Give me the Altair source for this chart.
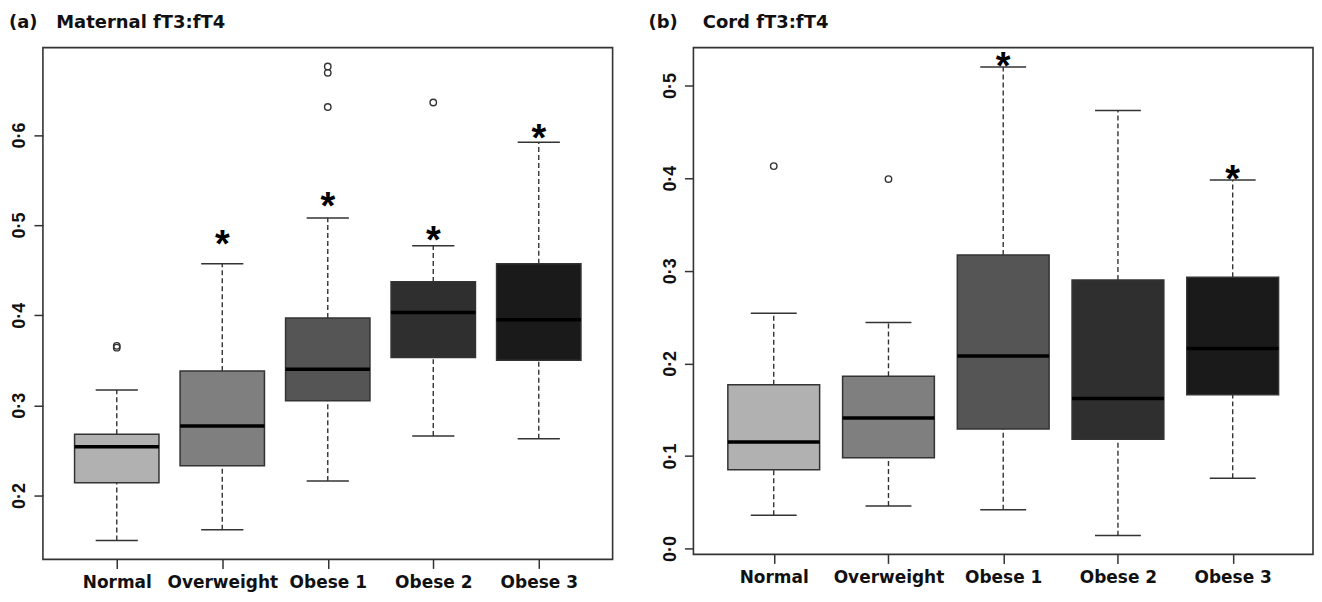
import altair as alt
import pandas as pd

categories = ["Normal", "Overweight", "Obese 1", "Obese 2", "Obese 3"]
positions = [1, 2, 3, 4, 5]
fills = ["#b1b1b1", "#7f7f7f", "#555555", "#2f2f2f", "#1a1a1a"]

# Panel (a): Maternal fT3:fT4
a_lower = [0.150, 0.162, 0.216, 0.266, 0.263]
a_q1 = [0.214, 0.233, 0.305, 0.353, 0.350]
a_median = [0.254, 0.277, 0.340, 0.403, 0.395]
a_q3 = [0.268, 0.338, 0.397, 0.437, 0.457]
a_upper = [0.317, 0.457, 0.508, 0.477, 0.592]
a_out_pos = [1, 1, 3, 3, 3, 4]
a_out_val = [0.364, 0.366, 0.676, 0.669, 0.631, 0.636]
a_star_pos = [2, 3, 4, 5]
a_star_val = [0.489, 0.531, 0.493, 0.607]
a_ticks = [0.2, 0.3, 0.4, 0.5, 0.6]
a_domain = [0.129, 0.697]

# Panel (b): Cord fT3:fT4
b_lower = [0.036, 0.046, 0.042, 0.014, 0.076]
b_q1 = [0.085, 0.098, 0.129, 0.118, 0.166]
b_median = [0.115, 0.141, 0.208, 0.162, 0.216]
b_q3 = [0.177, 0.186, 0.317, 0.290, 0.293]
b_upper = [0.254, 0.244, 0.520, 0.473, 0.398]
b_out_pos = [1, 2]
b_out_val = [0.413, 0.399]
b_star_pos = [3, 5]
b_star_val = [0.531, 0.409]
b_ticks = [0.0, 0.1, 0.2, 0.3, 0.4, 0.5]
b_domain = [-0.0063, 0.541]

label_expr = "[" + ",".join("'" + c + "'" for c in categories) + "][datum.value - 1]"
AX = "#333333"


def panel(lower, q1, median, q3, upper, out_pos, out_val, star_pos, star_val,
          ticks, domain, title, width, height, extent):
    box = pd.DataFrame({"cat": categories, "pos": positions, "lower": lower,
                        "q1": q1, "median": median, "q3": q3, "upper": upper})
    outl = pd.DataFrame({"pos": out_pos, "val": out_val})
    stars = pd.DataFrame({"pos": star_pos, "val": star_val})

    xs = alt.Scale(domain=[0.3, 5.7], nice=False, zero=False)
    ys = alt.Scale(domain=domain, nice=False, zero=False)
    xax = alt.Axis(values=positions, labelExpr=label_expr, title=None, grid=False,
                   domain=False, tickSize=9, tickWidth=1.5, tickColor=AX,
                   labelFont="DejaVu Sans", labelFontWeight="bold", labelFontSize=17,
                   labelColor="#111111", labelPadding=6, labelFlush=False,
                   labelOverlap=False)
    yax = alt.Axis(values=ticks, labelExpr="replace(format(datum.value, '.1f'), '.', '\u00b7')",
                   title=None, grid=False, domain=False, tickSize=9, tickWidth=1.5,
                   tickColor=AX, labelAngle=270, labelAlign="center",
                   labelBaseline="bottom", labelFont="Liberation Sans",
                   labelFontWeight="bold", labelFontSize=18, labelColor="#111111",
                   labelPadding=5, labelFlush=False, labelOverlap=False,
                   minExtent=extent, maxExtent=extent)

    def X(f):
        return alt.X(f, type="quantitative", scale=xs, axis=xax)

    def Y(f):
        return alt.Y(f, type="quantitative", scale=ys, axis=yax)

    base = alt.Chart(box).transform_calculate(
        x_lo="datum.pos - 0.4", x_hi="datum.pos + 0.4",
        c_lo="datum.pos - 0.2", c_hi="datum.pos + 0.2")

    whisk_hi = base.mark_rule(color=AX, strokeWidth=1.4, strokeDash=[5, 3]).encode(
        x=X("pos"), y=Y("q3"), y2="upper")
    whisk_lo = base.mark_rule(color=AX, strokeWidth=1.4, strokeDash=[5, 3]).encode(
        x=X("pos"), y=Y("lower"), y2="q1")
    cap_hi = base.mark_rule(color=AX, strokeWidth=1.5).encode(
        x=X("c_lo"), x2="c_hi", y=Y("upper"))
    cap_lo = base.mark_rule(color=AX, strokeWidth=1.5).encode(
        x=X("c_lo"), x2="c_hi", y=Y("lower"))
    boxes = base.mark_rect(stroke=AX, strokeWidth=1.5).encode(
        x=X("x_lo"), x2="x_hi", y=Y("q1"), y2="q3",
        fill=alt.Fill("cat:N", scale=alt.Scale(domain=categories, range=fills), legend=None))
    med = base.mark_rule(color="#000000", strokeWidth=3.5).encode(
        x=X("x_lo"), x2="x_hi", y=Y("median"))
    pts = alt.Chart(outl).mark_point(shape="circle", filled=False, size=42,
                                     strokeWidth=1.4, color=AX, opacity=1).encode(
        x=X("pos"), y=Y("val"))
    st = alt.Chart(stars).mark_text(text="*", font="Liberation Sans", fontWeight="bold",
                                    fontSize=38, baseline="top", dy=-8,
                                    color="#000000").encode(x=X("pos"), y=Y("val"))

    return alt.layer(whisk_hi, whisk_lo, cap_hi, cap_lo, boxes, med, pts, st).properties(
        width=width, height=height,
        title=alt.TitleParams(text=title, anchor="start", frame="bounds",
                              font="DejaVu Sans", fontSize=18, fontWeight="bold",
                              color="#111111", baseline="alphabetic", offset=2))


pa = panel(a_lower, a_q1, a_median, a_q3, a_upper, a_out_pos, a_out_val,
           a_star_pos, a_star_val, a_ticks, a_domain,
           "(a)\u00a0\u00a0\u00a0Maternal fT3:fT4", 571, 513, 34)
pb = panel(b_lower, b_q1, b_median, b_q3, b_upper, b_out_pos, b_out_val,
           b_star_pos, b_star_val, b_ticks, b_domain,
           "(b)\u00a0\u00a0\u00a0\u00a0Cord fT3:fT4", 621, 508, 45)

chart = alt.hconcat(pa, pb, spacing=34).properties(
    padding={"left": 0, "top": 4, "right": 0, "bottom": 0}
).configure_view(stroke=AX, strokeWidth=1.6)

chart.save("out.html", embed_options={"renderer": "svg", "actions": False})
